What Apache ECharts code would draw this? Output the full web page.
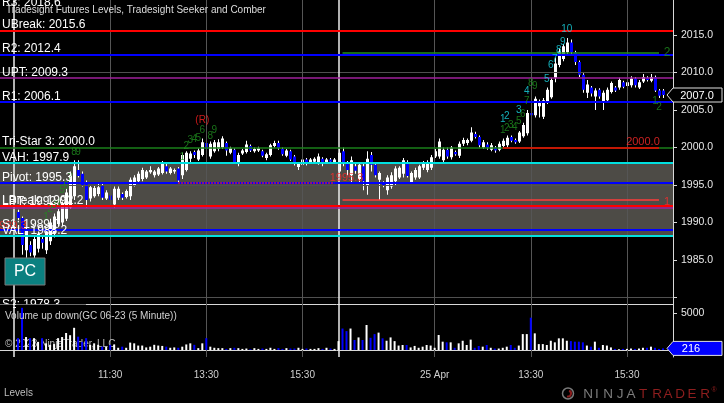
<!DOCTYPE html>
<html><head><meta charset="utf-8">
<script src="https://cdn.jsdelivr.net/npm/echarts@6/dist/echarts.min.js"></script>
<style>html,body{margin:0;padding:0;background:#000;overflow:hidden}#c{width:724px;height:403px}</style>
</head><body><div id="c"></div>
<script>
const FONT = 'Arial, "Liberation Sans", sans-serif';

// ---------------- DATA ----------------
// 5-minute bars, first bar sits at slot 4 of the category axis
const firstBarSlot = 4;
const opens = [
1991.4,1990.6,1986.3,1987.0,1985.6,1986.5,1987.8,1986.3,1987.5,1988.5,
1989.8,1990.0,1990.5,1992.0,1993.5,1997.0,1996.5,1995.3,1993.2,1993.5,
1993.8,1995.0,1993.2,1993.6,1992.4,1993.3,1993.8,1993.4,1993.5,1995.0,
1995.5,1995.8,1996.0,1996.7,1996.3,1996.4,1996.6,1997.5,1996.6,1996.8,
1997.2,1996.3,1997.0,1998.5,1999.4,1998.4,1999.0,2000.6,1998.8,1999.5,
1999.8,2000.0,2000.6,1999.3,1999.7,1997.8,1999.2,1999.4,2000.2,1999.5,
1999.6,1999.5,1998.6,1999.0,2000.2,2000.6,1999.8,1998.9,1999.5,1998.8,
1997.4,1997.7,1998.4,1998.0,1998.1,1997.9,1998.5,1998.0,1998.4,1998.0,
1996.8,1999.5,1998.0,1996.3,1997.5,1995.8,1997.5,1995.0,1999.0,1997.7,
1995.7,1995.2,1994.3,1994.8,1995.5,1996.0,1996.5,1998.0,1995.4,1996.0,
1996.0,1997.3,1997.0,1997.3,1998.8,1998.8,1998.3,1999.7,1998.7,1999.4,
1998.9,2000.5,2000.6,2000.9,2001.8,2001.4,2000.0,2000.4,1999.7,2000.0,
1999.7,2000.2,2000.3,2001.4,2001.0,2000.8,2001.5,2001.9,2004.6,2004.3,
2005.5,2004.1,2006.0,2006.7,2009.3,2011.0,2011.8,2012.7,2014.0,2012.7,
2011.4,2009.7,2007.3,2008.0,2006.8,2007.7,2006.0,2006.3,2007.4,2008.0,
2008.0,2008.7,2008.2,2008.3,2009.2,2008.0,2008.8,2009.3,2008.9,2009.4,
2007.6,2007.6];
const closes = [
1990.6,1987.0,1989.0,1986.0,1987.8,1988.5,1987.3,1988.8,1990.0,1990.8,
1991.5,1992.5,1994.0,1996.3,1997.5,1996.2,1995.0,1993.0,1994.7,1994.6,
1994.7,1993.3,1994.0,1993.0,1994.5,1994.5,1993.3,1994.2,1995.7,1996.0,
1996.5,1997.0,1996.8,1997.0,1996.8,1997.2,1997.8,1996.8,1997.2,1997.0,
1995.6,1999.0,1999.3,1999.2,1999.0,1999.6,2000.7,1999.8,2000.5,2000.7,
2000.7,2001.2,1999.6,1999.9,1998.0,1999.0,1999.6,2000.4,1999.6,1999.8,
1999.9,1998.9,1999.1,2000.3,2000.6,1999.9,1999.1,1999.6,1998.4,1997.8,
1997.8,1998.4,1997.8,1998.4,1998.5,1998.8,1997.8,1998.4,1998.1,1998.4,
1999.3,1998.0,1997.0,1998.3,1996.9,1997.7,1995.5,1998.5,1997.7,1996.3,
1996.6,1995.0,1996.0,1996.3,1997.2,1997.3,1998.3,1996.2,1996.6,1997.0,
1997.5,1998.0,1998.0,1998.7,1999.5,2000.8,1999.7,1998.8,2000.0,1999.1,
2000.5,2001.0,2001.0,2002.0,2001.4,2000.3,2000.7,2000.0,2000.3,1999.6,
2000.5,2000.9,2001.3,2000.9,2000.7,2002.0,2003.0,2004.6,2004.3,2006.5,
2006.2,2006.3,2007.7,2009.0,2011.2,2012.8,2013.5,2014.0,2012.7,2011.4,
2009.7,2007.7,2008.4,2007.2,2007.6,2006.8,2007.3,2007.7,2008.6,2007.6,
2009.0,2008.1,2008.7,2009.2,2008.3,2008.7,2009.4,2009.0,2009.4,2007.6,
2006.9,2007.0];
const lows = [
1990.3,1985.7,1985.3,1985.5,1985.2,1986.0,1986.5,1985.8,1987.0,1988.0,
1989.5,1989.5,1990.2,1991.8,1993.0,1996.0,1994.8,1992.0,1992.8,1993.3,
1993.5,1993.0,1993.0,1992.8,1992.0,1993.0,1993.0,1993.2,1993.0,1994.8,
1995.3,1995.5,1995.8,1996.5,1996.0,1996.2,1996.4,1996.5,1996.4,1996.5,
1995.3,1995.8,1996.8,1998.0,1998.6,1998.2,1998.8,1999.5,1998.5,1999.3,
1999.5,1999.8,1998.9,1999.1,1997.8,1997.5,1999.0,1999.2,1999.4,1999.3,
1999.4,1998.7,1998.3,1998.8,2000.0,1999.7,1998.9,1998.7,1998.2,1997.6,
1997.0,1997.4,1997.6,1997.8,1997.9,1997.7,1997.5,1997.8,1997.9,1997.8,
1996.3,1997.5,1996.3,1995.3,1996.5,1995.3,1994.3,1993.7,1996.8,1996.0,
1993.0,1994.7,1993.7,1994.5,1995.0,1995.8,1996.0,1996.0,1995.2,1995.7,
1995.8,1997.0,1996.7,1997.0,1998.6,1998.5,1998.0,1998.5,1998.4,1998.9,
1998.6,2000.2,2000.3,2000.7,2001.2,2000.0,1999.8,1999.7,1999.5,1999.3,
1999.5,2000.0,2000.0,2000.7,2000.5,2000.6,2001.3,2001.6,2004.0,2004.0,
2004.0,2003.8,2005.8,2006.5,2008.7,2010.7,2011.5,2012.4,2012.3,2011.0,
2009.4,2007.3,2006.6,2006.8,2005.0,2006.5,2005.0,2006.0,2007.2,2007.4,
2007.7,2007.9,2008.0,2008.0,2008.0,2007.8,2008.6,2008.8,2008.7,2007.4,
2006.6,2006.6];
const highs = [
1991.7,1990.8,1989.3,1987.5,1988.2,1988.8,1988.2,1989.2,1990.5,1991.2,
1991.8,1992.8,1994.5,1996.8,1998.3,1998.3,1996.8,1995.6,1995.0,1995.0,
1995.2,1995.2,1994.3,1994.0,1994.8,1994.8,1994.0,1994.4,1996.0,1996.3,
1996.8,1997.3,1997.0,1997.5,1997.0,1997.4,1998.2,1997.8,1997.4,1997.2,
1997.4,1999.3,1999.5,1999.5,1999.6,1999.9,2001.2,2001.6,2000.8,2001.0,
2001.1,2001.5,2000.8,2000.1,1999.9,1999.3,1999.8,2000.9,2000.4,2000.0,
2000.1,1999.7,1999.3,2000.5,2000.9,2000.9,2000.0,1999.8,1999.7,1999.0,
1998.0,1998.6,1998.6,1998.6,1998.7,1999.2,1998.7,1998.6,1998.6,1998.6,
1999.8,2000.0,1998.2,1998.8,1997.8,1998.0,1997.8,1999.5,1999.4,1997.9,
1996.8,1995.5,1996.3,1996.7,1997.5,1997.5,1998.6,1998.3,1996.8,1997.3,
1997.7,1998.2,1998.3,1999.0,1999.8,2001.2,2000.0,2000.0,2000.2,1999.6,
2000.8,2001.3,2001.2,2002.7,2002.1,2001.6,2001.0,2000.7,2000.6,2000.2,
2000.8,2001.2,2001.6,2001.6,2001.2,2002.2,2003.3,2005.0,2004.8,2006.8,
2006.4,2006.6,2008.0,2009.3,2012.0,2013.2,2013.8,2014.6,2014.4,2012.9,
2011.6,2009.9,2009.0,2008.2,2007.9,2007.9,2007.6,2008.0,2008.8,2008.2,
2009.3,2008.9,2009.0,2009.5,2009.4,2009.0,2009.8,2009.5,2009.8,2009.6,
2007.8,2007.8];
const volumes = [
1600,5700,1750,1600,1600,1100,1600,900,700,800,
1600,1750,2300,2000,3000,1800,1100,1600,700,900,
700,450,450,700,750,300,450,300,1000,900,
600,600,350,450,700,600,550,450,300,350,
300,450,750,900,700,250,900,1600,450,300,
250,250,150,250,300,250,150,200,100,250,
150,200,150,300,150,250,150,250,200,200,
300,150,200,150,150,250,150,300,200,150,
1200,2900,2550,2900,1350,1700,1350,3375,1650,2150,
2350,1575,1250,1700,1200,600,675,675,350,550,
300,450,675,600,300,2025,1125,1035,1035,300,
900,1250,675,1400,300,540,450,675,300,200,
200,300,450,675,300,600,2150,2150,4365,2250,
800,800,675,1250,1035,1575,1575,1250,1200,1125,
1125,1035,600,450,1125,300,675,600,350,150,
100,150,150,200,150,200,300,300,450,300,
150,216];

// Levels (Tradesight Futures Levels)
const levelNames  = ['R3','UBreak','R2','UPT','R1','Tri-Star 3','VAH','Pivot','LPT','LBreak','S1','VAL','S2'];
const levelValues = [2018.6,2015.6,2012.4,2009.3,2006.1,2000.0,1997.9,1995.3,1992.0,1992.2,1989.0,1988.2,1978.3];

// Seeker / Comber partial lines: [fromSlot, toSlot, price]
const segFrom  = [85, 85, 125, 44];
const segTo    = [164, 164, 164, 83];
const segPrice = [2012.7, 1993.0, 2000.0, 1995.3];

// Seeker counts & texts: slot, price, text, kind
const noteSlots  = [11,12,13,14,15,16,17,18,19, 45,46,47,48,49,50,52,53,50,
  125,126,127,128,129,130,131,132,133, 125,126,129,131,136,137,138,139,140,141, 163,164, 166,166,160,86,2];
const notePrices = [1990.7,1991.8,1992.3,1992.6,1994.3,1994.8,1995.9,1999.4,1999.4,
  1998.7,2000.2,2001.0,2001.1,2001.3,2002.3,2001.5,2002.3,2003.7,
  2002.3,2002.6,2003.0,2002.7,2003.5,2004.5,2006.2,2008.6,2008.2,
  2003.8,2004.2,2005.0,2007.5,2009.1,2011.0,2011.8,2013.0,2014.1,2015.8,
  2006.2,2005.4, 2012.7,1992.7,2000.7,1995.9,1989.6];
const noteTexts  = ['1','2','3','4','5','6','7','8','9', '1','2','3','4','5','6','8','9','(R)',
  '1','2','3','4','5','6','7','8','9', '1','2','3','4','5','6','7','8','9','10', '1','2', '2','1','2000.0','1995.3','1989.3'];
const noteKinds  = ['g','g','g','g','g','g','g','g','g', 'g','g','g','g','g','g','g','g','r',
  'g','g','g','g','g','g','g','g','g', 'c','c','c','c','c','c','c','c','c','c', 'g','g', 'G','L','L','L','L'];

// time axis
const sessionDays   = ['24 Apr','25 Apr'];
const sessionStarts = ['09:15','09:30'];
const labeledTimes  = ['11:30','13:30','15:30'];
const priceTicks  = [1980,1985,1990,1995,2000,2005,2010,2015];
const priceLabels = [1985,1990,1995,2000,2005,2010,2015];
const priceGrid   = [1980,1995,2010];
const volumeLabels = [5000];

// ---------------- BUILD ----------------
const SLOTS_PER_DAY = 84;
const categories = [];
sessionDays.forEach((d, k) => {
  const [hh, mm] = sessionStarts[k].split(':').map(Number);
  for (let j = 0; j < SLOTS_PER_DAY; j++) {
    const m = hh * 60 + mm + 5 * j;
    categories.push(d + ' ' + String(Math.floor(m / 60)).padStart(2, '0') + ':' + String(m % 60).padStart(2, '0'));
  }
});
const timeOf = c => c.slice(-5);
const dayOf = c => c.slice(0, -6);
const isLabelSlot = (i) => labeledTimes.includes(timeOf(categories[i]));
const labelSlots = categories.map((c, i) => i).filter(isLabelSlot);
const sessionSlots = categories.map((c, i) => i).filter(i => timeOf(categories[i]) === '09:30');
const fmtTime = (v) => {
  const t = timeOf(v), d = dayOf(v);
  if (t === labeledTimes[0] && d !== sessionDays[0]) return d;
  return t;
};

const candleData = opens.map((o, k) => [firstBarSlot + k, o, closes[k], lows[k], highs[k]]);
const volData = categories.map(() => '-');
const volColor = categories.map(() => '#fff');
volumes.forEach((v, k) => {
  volData[firstBarSlot + k] = v;
  volColor[firstBarSlot + k] = closes[k] < opens[k] ? '#0000ff' : '#ffffff';
});

const levelStyle = {
  'R3': ['rgba(0,0,0,0)', 0], 'UBreak': ['#ff0000', 2], 'R2': ['#0000ff', 2], 'UPT': ['#a0209c', 1.5],
  'R1': ['#0000ff', 2], 'Tri-Star 3': ['#1a7f1a', 1.5], 'VAH': ['#00e0e0', 2], 'Pivot': ['#0000ff', 2],
  'LPT': ['#a0209c', 1.5], 'LBreak': ['#ff0000', 2], 'S1': ['#0000ff', 2], 'VAL': ['#00e0e0', 2], 'S2': ['rgba(0,0,0,0)', 0]
};
const segStyle = [
  {color: '#1f8f1f', width: 1.5, type: 'solid'},
  {color: '#ff3b3b', width: 1.5, type: 'solid'},
  {color: '#ff0000', width: 1.5, type: 'solid'},
  {color: '#ff2020', width: 1.5, type: 'dotted'}
];
const noteStyle = {
  g: {color: '#1f8f1f', fontSize: 10}, c: {color: '#19d9e6', fontSize: 10}, r: {color: '#ff2020', fontSize: 10},
  G: {color: '#1f8f1f', fontSize: 12}, L: {color: '#ff2a2a', fontSize: 11}
};

const levelLines = levelNames.map((n, i) => ({
  yAxis: levelValues[i], lineStyle: {color: levelStyle[n][0], width: levelStyle[n][1], type: 'solid'}
})).filter(d => d.lineStyle.width > 0);
const segLines = segFrom.map((f, i) => [
  {coord: [f, segPrice[i]], lineStyle: segStyle[i]},
  {coord: [segTo[i], segPrice[i]]}
]);
const vaIdx = levelNames.indexOf('VAH'), valIdx = levelNames.indexOf('VAL');

const gridV = labelSlots.map(s => ({xAxis: s, lineStyle: {color: '#555', width: 1, type: 'solid'}}));
const sessV = sessionSlots.map(s => ({xAxis: s, lineStyle: {color: '#ececec', width: 1.5, type: 'solid'}}));
const gridH = priceGrid.map(v => ({yAxis: v, lineStyle: {color: '#505050', width: 1, type: 'solid'}}));

function renderCandle(params, api) {
  const i = api.value(0), o = api.value(1), c = api.value(2), l = api.value(3), h = api.value(4);
  const pO = api.coord([i, o]), pC = api.coord([i, c]), pL = api.coord([i, l]), pH = api.coord([i, h]);
  const x = Math.round(pO[0]);
  const up = c >= o;
  const top = Math.min(pO[1], pC[1]);
  const hgt = Math.max(1, Math.abs(pO[1] - pC[1]));
  return {type: 'group', children: [
    {type: 'line', shape: {x1: x + 0.5, y1: pH[1], x2: x + 0.5, y2: pL[1]}, style: {stroke: '#ffffff', lineWidth: 1}},
    {type: 'rect', shape: {x: x - 1, y: top, width: 3, height: hgt}, style: {fill: up ? '#ffffff' : '#0000ff'}}
  ]};
}

const noteData = noteSlots.map((s, i) => ({
  value: [s, notePrices[i]],
  label: {show: true, formatter: noteTexts[i], color: noteStyle[noteKinds[i]].color, fontSize: noteStyle[noteKinds[i]].fontSize, fontFamily: FONT, position: 'inside'}
}));

const axisCol = '#d8d8d8';
const ML = {symbol: 'none', silent: true, animation: false, label: {show: false}, emphasis: {disabled: true}};

const option = {
  backgroundColor: '#000',
  animation: false,
  textStyle: {fontFamily: FONT},
  grid: [
    {left: 0, right: 51, top: 0, height: 304},
    {left: 0, right: 51, top: 304, height: 53}
  ],
  xAxis: [
    {type: 'category', gridIndex: 0, data: categories, axisLine: {show: true, lineStyle: {color: axisCol}},
      axisTick: {show: false}, axisLabel: {show: false}, splitLine: {show: false}},
    {type: 'category', gridIndex: 1, data: categories, axisLine: {show: true, lineStyle: {color: axisCol}},
      axisTick: {show: true, alignWithLabel: true, length: 5, interval: isLabelSlot, lineStyle: {color: axisCol}},
      axisLabel: {show: true, interval: isLabelSlot, formatter: fmtTime, color: '#d0d0d0', fontSize: 10, margin: 13, fontFamily: FONT},
      splitLine: {show: false}}
  ],
  yAxis: [
    {type: 'value', gridIndex: 0, position: 'right', min: 1979.13, max: 2019.67,
      axisLine: {show: true, lineStyle: {color: axisCol}},
      axisTick: {show: true, length: 4, customValues: priceTicks, lineStyle: {color: axisCol}},
      axisLabel: {show: true, customValues: priceLabels, formatter: v => Number(v).toFixed(1), color: '#e8e8e8', fontSize: 10.5, margin: 8, fontFamily: FONT},
      splitLine: {show: false}},
    {type: 'value', gridIndex: 1, position: 'right', min: -946, max: 6216,
      axisLine: {show: true, lineStyle: {color: axisCol}},
      axisTick: {show: true, length: 4, customValues: volumeLabels, lineStyle: {color: axisCol}},
      axisLabel: {show: true, customValues: volumeLabels, formatter: v => String(Math.round(v)), color: '#e8e8e8', fontSize: 10.5, margin: 8, fontFamily: FONT},
      splitLine: {show: false}}
  ],
  series: [
    {type: 'scatter', xAxisIndex: 0, yAxisIndex: 0, data: [], z: 1, silent: true,
      markLine: Object.assign({}, ML, {data: gridH.concat(gridV, sessV)})},
    {type: 'scatter', xAxisIndex: 0, yAxisIndex: 0, data: [], z: 2, silent: true,
      markArea: {silent: true, itemStyle: {color: 'rgba(160,156,146,0.48)'}, label: {show: false},
        data: [[{yAxis: levelValues[vaIdx]}, {yAxis: levelValues[valIdx]}]]}},
    {type: 'scatter', xAxisIndex: 0, yAxisIndex: 0, data: [], z: 3, silent: true,
      markLine: Object.assign({}, ML, {data: levelLines.concat(segLines)})},
    {type: 'custom', xAxisIndex: 0, yAxisIndex: 0, z: 4, silent: true, renderItem: renderCandle,
      encode: {x: 0, y: [1, 2, 3, 4]}, data: candleData},
    {type: 'scatter', xAxisIndex: 0, yAxisIndex: 0, z: 5, silent: true, symbolSize: 1,
      itemStyle: {color: 'rgba(0,0,0,0)'}, data: noteData},
    {type: 'scatter', xAxisIndex: 1, yAxisIndex: 1, data: [], z: 1, silent: true,
      markLine: Object.assign({}, ML, {data: gridV.concat(sessV)})},
    {type: 'bar', xAxisIndex: 1, yAxisIndex: 1, z: 10, silent: true, barWidth: 2, data: volData,
      itemStyle: {color: p => volColor[p.dataIndex]}}
  ]
};

const chart = echarts.init(document.getElementById('c'));
chart.setOption(option);

// ---------------- ANNOTATIONS (positioned through the axes) ----------------
const T = (x, y, text, fill, size, extra) => Object.assign({
  type: 'text', x: x, y: y, z: 20,
  style: {text: text, fill: fill, font: size + 'px ' + FONT}
}, extra || {});
const C = (x, y, text, fill, size, z) => ({
  type: 'text', x: x, y: y, z: z || 20,
  style: {text: text, fill: fill, font: size + 'px ' + FONT, align: 'center', verticalAlign: 'middle', textAlign: 'center', textVerticalAlign: 'middle'}
});
const g = [];
// level labels
levelNames.forEach((n, i) => {
  const y = chart.convertToPixel({yAxisIndex: 0}, levelValues[i]);
  g.push(Object.assign(T(2, y - 11.5, n + ': ' + levelValues[i].toFixed(1), '#ffffff', 12), {z: 6}));
});
// clip area below main panel (for S2 label)
g.push({type: 'rect', z: 8, shape: {x: 0, y: 304.5, width: 13, height: 8}, style: {fill: '#000'}});
g.push({type: 'rect', z: 8, shape: {x: 16, y: 304.5, width: 70, height: 8}, style: {fill: '#000'}});
// title
g.push(T(6, 5, 'Tradesight Futures Levels, Tradesight Seeker and Comber', '#dcdcdc', 10));
// PC box
g.push({type: 'rect', z: 20, shape: {x: 5, y: 258, width: 40, height: 27}, style: {fill: '#0b8080', stroke: '#7a7a7a', lineWidth: 1}});
g.push(C(25, 272, 'PC', '#ffffff', 16, 21));
// volume panel texts
g.push(Object.assign(T(5, 311, 'Volume up down(GC 06-23 (5 Minute))', '#d0d0d0', 10), {z: 11}));
g.push(Object.assign(T(5, 339, '\u00a9 2023 NinjaTrader, LLC', '#bdbdbd', 10), {z: 9}));
g.push(T(4, 388, 'Levels', '#bdbdbd', 10));
// price tag
const lastClose = closes[closes.length - 1];
const py = chart.convertToPixel({yAxisIndex: 0}, lastClose);
g.push({type: 'polygon', z: 20, shape: {points: [[667, py], [673, py - 7], [722, py - 7], [722, py + 7], [673, py + 7]]}, style: {fill: '#000', stroke: '#e0e0e0', lineWidth: 1}});
g.push(C(697, py + 0.5, lastClose.toFixed(1), '#ffffff', 11, 21));
// volume tag
const lastVol = volumes[volumes.length - 1];
const vy = chart.convertToPixel({yAxisIndex: 1}, lastVol);
g.push({type: 'polygon', z: 20, shape: {points: [[667, vy], [673, vy - 7], [722, vy - 7], [722, vy + 7], [673, vy + 7]]}, style: {fill: '#0000ff', stroke: '#e0e0e0', lineWidth: 1}});
g.push(C(691, vy + 0.5, String(lastVol), '#ffffff', 11, 21));
// NinjaTrader logo
g.push({type: 'circle', z: 20, shape: {cx: 568, cy: 393.5, r: 5.5}, style: {fill: 'none', stroke: '#7a7a7a', lineWidth: 1.5}});
g.push({type: 'arc', z: 21, shape: {cx: 568, cy: 393.5, r: 3, startAngle: -1.2, endAngle: 1.9}, style: {fill: 'none', stroke: '#8b1c1c', lineWidth: 2}});
const logoLetters = ['N','I','N','J','A','T','R','A','D','E','R'];
const logoX = [588, 597, 608, 620, 631, 643, 657, 668, 680, 692, 705];
logoLetters.forEach((ch, i) => g.push(C(logoX[i], 394, ch, i < 5 ? '#7c7c7c' : '#8e1e1e', 13.5)));
g.push(C(714, 390, '\u00ae', '#8e1e1e', 7));

chart.setOption({graphic: {elements: g}});
</script>
</body></html>
